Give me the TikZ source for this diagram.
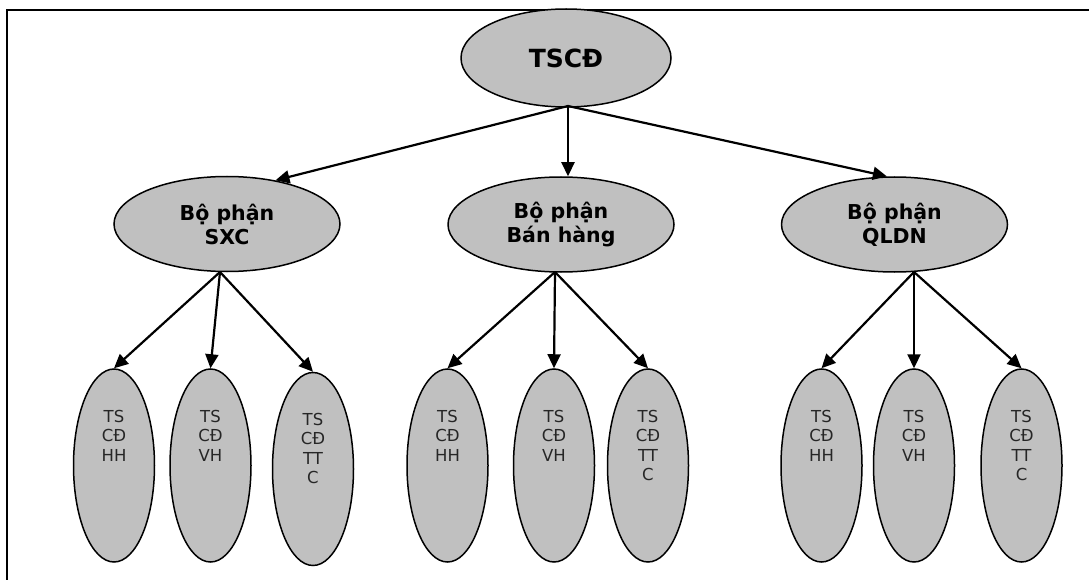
\documentclass[tikz,border=0pt]{standalone}
\usepackage{fontspec}
\setmainfont{DejaVu Sans}
\usetikzlibrary{arrows.meta,calc,shapes.geometric}
\definecolor{shade}{HTML}{C0C0C0}
\begin{document}
\begin{tikzpicture}[x=1pt,y=-1pt,
  ell/.style={ellipse, draw, line width=1.5pt, fill=shade, inner sep=0pt},
  topbox/.style={ell, minimum width=210pt, minimum height=98pt, font=\fontsize{25}{30}\selectfont\bfseries},
  midbox/.style={ell, minimum width=226pt, minimum height=95pt, align=center, font=\fontsize{20.5}{24}\selectfont\bfseries},
  leafbox/.style={ell, minimum width=81pt, minimum height=193pt},
  leaftext/.style={anchor=north, align=center, inner sep=0pt, text=black!85, font=\fontsize{16.5}{19.3}\selectfont},
  conn/.style={line width=2.2pt, -{Triangle[length=14pt,width=13pt]}},
  frame/.style={line width=1.5pt}]
\useasboundingbox (0,0) rectangle (1089,580);
% frame
\coordinate (fa) at (7,580);
\coordinate (fb) at (7,10);
\coordinate (fc) at (1089,10);
\draw[frame] (fa) -- (fb) -- (fc);
% top
\node[topbox] (top) at (566,58) {TSCĐ};
% middle
\node[midbox] (sxc) at (227,224) {Bộ phận\\SXC};
\node[midbox] (bh) at (561,224.5) {Bộ phận\\Bán hàng};
\node[midbox] (ql) at (894.5,224.5) {Bộ phận\\QLDN};
% leaves
\node[leafbox] (hh1) at (114,465.5) {};
\node[leafbox] (vh1) at (210.5,465.5) {};
\node[leafbox] (tt1) at (313,469) {};
\node[leafbox] (hh2) at (447.5,465.5) {};
\node[leafbox] (vh2) at (554,465.5) {};
\node[leafbox] (tt2) at (648,465.5) {};
\node[leafbox] (hh3) at (821.5,465.5) {};
\node[leafbox] (vh3) at (914,465.5) {};
\node[leafbox] (tt3) at (1021.5,465.5) {};
% leaf texts
\node[leaftext] (hh1t) at (114,410) {TS\\CĐ\\HH};
\node[leaftext] (vh1t) at (210.5,410) {TS\\CĐ\\VH};
\node[leaftext] (tt1t) at (313,413) {TS\\CĐ\\TT\\C};
\node[leaftext] (hh2t) at (447.5,410) {TS\\CĐ\\HH};
\node[leaftext] (vh2t) at (554,410) {TS\\CĐ\\VH};
\node[leaftext] (tt2t) at (648,410) {TS\\CĐ\\TT\\C};
\node[leaftext] (hh3t) at (821.5,410) {TS\\CĐ\\HH};
\node[leaftext] (vh3t) at (914,410) {TS\\CĐ\\VH};
\node[leaftext] (tt3t) at (1021.5,410) {TS\\CĐ\\TT\\C};
% connectors from top
\coordinate (ts) at (568,106);
\draw[conn] (ts) -- (sxc.42);
\draw[conn] (ts) -- (ts |- bh.north);
\draw[conn] (ts) -- (ql.99);
% connectors from middle
\coordinate (s1) at (220,272);
\coordinate (s2) at (555,272);
\coordinate (s3) at (914,272);
\draw[conn] (s1) -- (hh1.north);
\draw[conn] (s1) -- (vh1.north);
\draw[conn] (s1) -- (tt1.north);
\draw[conn] (s2) -- (hh2.north);
\draw[conn] (s2) -- (vh2.north);
\draw[conn] (s2) -- (tt2.north);
\draw[conn] (s3) -- (hh3.north);
\draw[conn] (s3) -- (vh3.north);
\draw[conn] (s3) -- (tt3.north);
\end{tikzpicture}
\end{document}
